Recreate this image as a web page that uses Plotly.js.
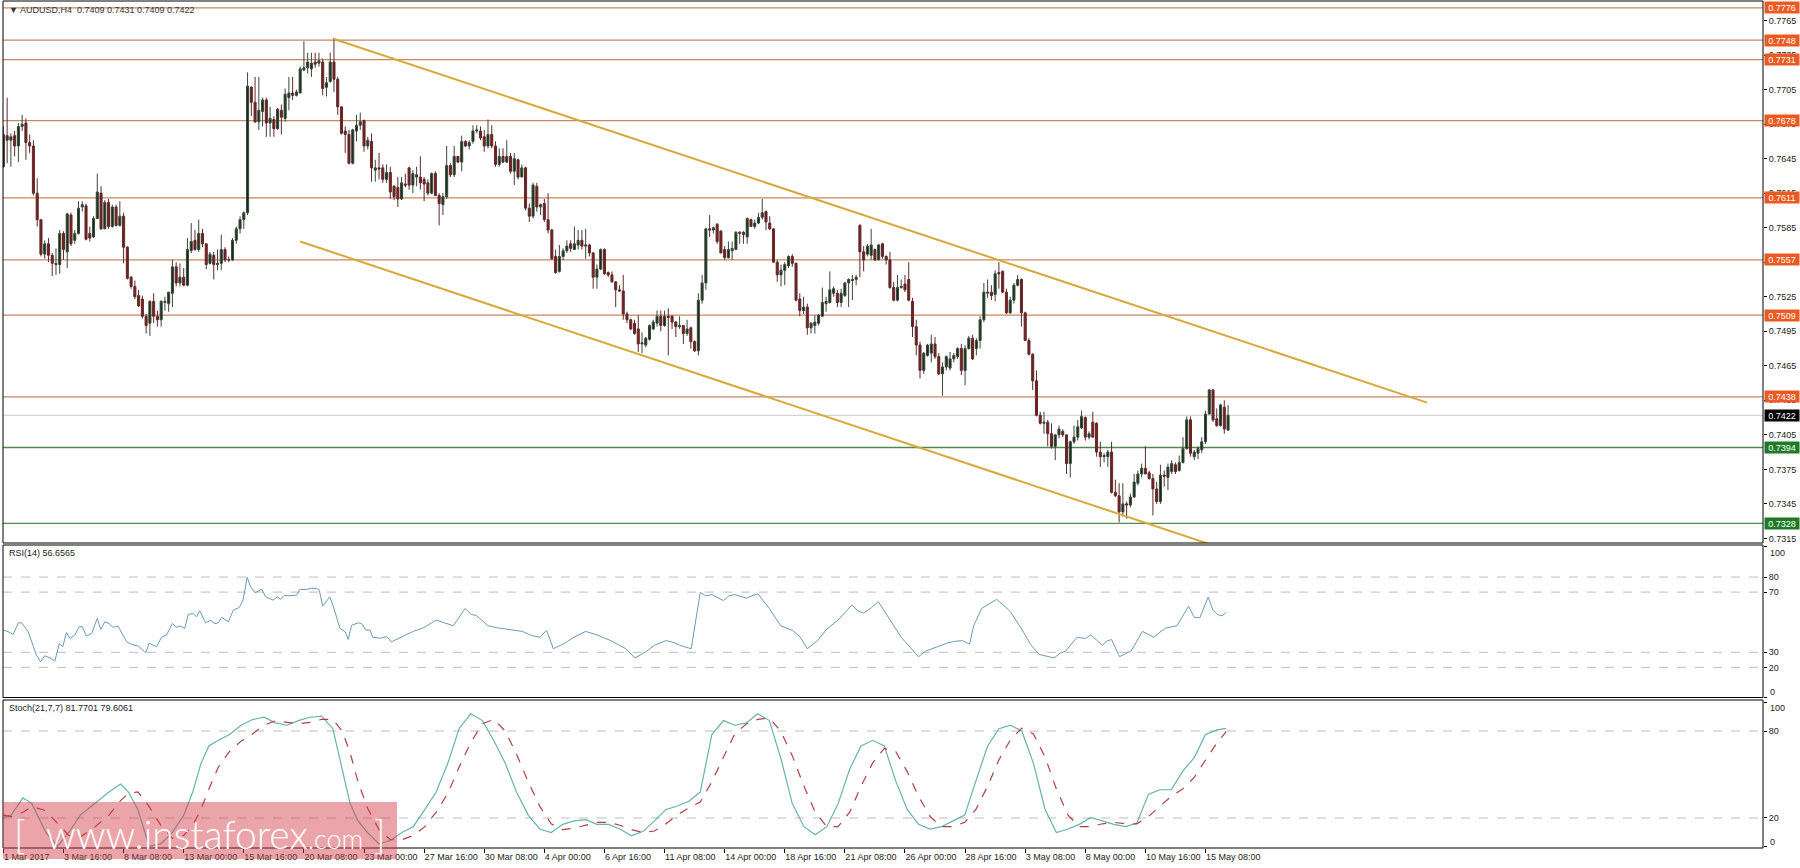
<!DOCTYPE html>
<html>
<head>
<meta charset="utf-8">
<script src="https://cdn.plot.ly/plotly-3.0.1.min.js"></script>
<style>html,body{margin:0;padding:0;background:#fff;}#chart{width:1800px;height:868px;}</style>
</head>
<body>
<div id="chart"></div>
<script>
// ---------------- DATA ----------------
const symbol = "AUDUSD,H4";
const openP = [
.7638,.7665,.7661,.7665,.7656,.7673,.7676,.7659,.7656,.7615,
.7592,.7562,.7571,.7561,.7553,.7553,.7580,.7564,.7596,.7574,
.7580,.7603,.7604,.7580,.7577,.7593,.7615,.7584,.7607,.7586,
.7603,.7587,.7595,.7568,.7542,.7534,.7526,.7523,.7508,.7502,
.7521,.7508,.7505,.7520,.7519,.7528,.7551,.7537,.7542,.7535,
.7565,.7574,.7566,.7580,.7571,.7554,.7561,.7553,.7554,.7566,
.7557,.7557,.7574,.7584,.7592,.7598,.7707,.7694,.7677,.7686,
.7696,.7676,.7679,.7671,.7687,.7680,.7698,.7702,.7700,.7702,
.7722,.7724,.7723,.7729,.7728,.7729,.7707,.7712,.7729,.7714,
.7690,.7669,.7666,.7641,.7669,.7674,.7678,.7656,.7660,.7635,
.7637,.7637,.7627,.7633,.7621,.7620,.7610,.7623,.7637,.7622,
.7629,.7629,.7627,.7624,.7615,.7632,.7613,.7605,.7612,.7639,
.7631,.7647,.7642,.7660,.7656,.7660,.7669,.7669,.7664,.7656,
.7666,.7656,.7640,.7647,.7642,.7647,.7634,.7644,.7629,.7637,
.7602,.7595,.7621,.7603,.7606,.7592,.7583,.7560,.7547,.7560,
.7565,.7571,.7566,.7570,.7574,.7569,.7570,.7563,.7542,.7549,
.7566,.7546,.7544,.7538,.7531,.7530,.7510,.7505,.7502,.7497,
.7484,.7483,.7488,.7497,.7502,.7508,.7500,.7508,.7508,.7503,
.7499,.7500,.7493,.7498,.7486,.7478,.7522,.7537,.7584,.7583,
.7588,.7582,.7566,.7559,.7565,.7566,.7580,.7581,.7577,.7592,
.7586,.7589,.7594,.7599,.7589,.7584,.7555,.7544,.7548,.7552,
.7560,.7554,.7523,.7513,.7516,.7498,.7500,.7502,.7508,.7519,
.7520,.7528,.7528,.7520,.7526,.7537,.7539,.7540,.7587,.7564,
.7562,.7561,.7566,.7557,.7571,.7560,.7557,.7533,.7522,.7533,
.7536,.7540,.7521,.7499,.7483,.7461,.7474,.7476,.7484,.7473,
.7458,.7464,.7463,.7471,.7473,.7480,.7461,.7480,.7489,.7480,
.7487,.7505,.7528,.7529,.7527,.7546,.7547,.7529,.7511,.7522,
.7535,.7540,.7511,.7487,.7475,.7452,.7422,.7415,.7416,.7406,
.7395,.7405,.7408,.7405,.7380,.7399,.7403,.7411,.7420,.7403,
.7416,.7415,.7390,.7386,.7386,.7390,.7355,.7352,.7338,.7345,
.7344,.7351,.7363,.7371,.7376,.7372,.7367,.7358,.7347,.7370,
.7368,.7373,.7379,.7374,.7381,.7393,.7418,.7386,.7389,.7392,
.7399,.7423,.7444,.7419,.7413,.7429,.7409];
const highP = [
.7673,.7698,.7667,.7669,.7676,.7683,.7680,.7666,.7661,.7628,
.7592,.7574,.7576,.7563,.7567,.7583,.7582,.7598,.7598,.7583,
.7608,.7608,.7606,.7586,.7595,.7632,.7621,.7609,.7610,.7605,
.7605,.7608,.7598,.7569,.7543,.7539,.7531,.7526,.7510,.7522,
.7528,.7513,.7522,.7525,.7529,.7557,.7555,.7554,.7550,.7576,
.7589,.7583,.7592,.7584,.7571,.7564,.7564,.7566,.7579,.7568,
.7560,.7576,.7586,.7595,.7599,.7720,.7708,.7716,.7716,.7698,
.7698,.7690,.7682,.7689,.7692,.7706,.7716,.7716,.7705,.7725,
.7747,.7737,.7737,.7737,.7737,.7732,.7716,.7737,.7750,.7716,
.7690,.7673,.7670,.7671,.7683,.7685,.7679,.7664,.7667,.7644,
.7650,.7640,.7640,.7638,.7622,.7629,.7629,.7632,.7638,.7635,
.7638,.7647,.7629,.7627,.7633,.7634,.7615,.7615,.7656,.7641,
.7656,.7647,.7665,.7661,.7661,.7674,.7674,.7673,.7670,.7679,
.7674,.7660,.7654,.7654,.7661,.7650,.7650,.7645,.7640,.7638,
.7606,.7624,.7624,.7606,.7610,.7615,.7584,.7566,.7570,.7567,
.7574,.7574,.7586,.7583,.7583,.7584,.7571,.7564,.7553,.7567,
.7567,.7547,.7547,.7538,.7535,.7544,.7512,.7506,.7505,.7509,
.7494,.7490,.7501,.7505,.7513,.7513,.7513,.7515,.7509,.7504,
.7508,.7500,.7505,.7499,.7487,.7528,.7544,.7585,.7596,.7586,
.7589,.7583,.7569,.7573,.7573,.7582,.7582,.7582,.7594,.7593,
.7592,.7598,.7610,.7600,.7595,.7584,.7557,.7553,.7555,.7561,
.7562,.7555,.7528,.7525,.7519,.7503,.7509,.7510,.7533,.7525,
.7547,.7534,.7531,.7532,.7538,.7541,.7544,.7544,.7588,.7569,
.7571,.7584,.7567,.7571,.7572,.7561,.7564,.7538,.7544,.7540,
.7544,.7555,.7524,.7505,.7486,.7477,.7484,.7492,.7490,.7476,
.7468,.7474,.7477,.7476,.7481,.7484,.7483,.7491,.7492,.7489,
.7508,.7537,.7540,.7535,.7548,.7555,.7548,.7532,.7525,.7537,
.7544,.7541,.7512,.7489,.7476,.7461,.7425,.7425,.7418,.7415,
.7405,.7413,.7410,.7405,.7400,.7413,.7418,.7426,.7421,.7408,
.7425,.7416,.7399,.7389,.7392,.7399,.7366,.7363,.7363,.7347,
.7354,.7371,.7374,.7380,.7395,.7374,.7371,.7364,.7379,.7374,
.7380,.7383,.7381,.7387,.7403,.7421,.7421,.7392,.7395,.7403,
.7426,.7445,.7445,.7428,.7432,.7435,.7431];
const lowP = [
.7637,.7641,.7638,.7647,.7642,.7669,.7644,.7650,.7613,.7586,
.7560,.7558,.7555,.7543,.7544,.7545,.7557,.7550,.7569,.7571,
.7579,.7599,.7574,.7573,.7576,.7593,.7583,.7584,.7584,.7585,
.7586,.7586,.7554,.7540,.7532,.7523,.7516,.7506,.7493,.7491,
.7502,.7499,.7499,.7513,.7512,.7516,.7534,.7534,.7534,.7534,
.7563,.7565,.7564,.7568,.7549,.7553,.7540,.7548,.7548,.7555,
.7555,.7556,.7571,.7580,.7584,.7596,.7682,.7676,.7670,.7673,
.7664,.7664,.7664,.7670,.7666,.7677,.7687,.7696,.7699,.7702,
.7721,.7719,.7716,.7724,.7725,.7700,.7699,.7711,.7703,.7683,
.7666,.7650,.7640,.7640,.7660,.7670,.7651,.7653,.7625,.7625,
.7627,.7624,.7624,.7610,.7609,.7603,.7609,.7620,.7618,.7615,
.7621,.7618,.7608,.7613,.7614,.7613,.7587,.7596,.7610,.7629,
.7629,.7641,.7634,.7655,.7653,.7658,.7667,.7661,.7651,.7654,
.7654,.7638,.7638,.7641,.7641,.7632,.7622,.7627,.7629,.7600,
.7590,.7593,.7599,.7596,.7590,.7580,.7557,.7545,.7546,.7557,
.7563,.7564,.7566,.7566,.7566,.7558,.7560,.7532,.7532,.7548,
.7544,.7542,.7537,.7516,.7529,.7505,.7502,.7496,.7492,.7477,
.7476,.7481,.7487,.7496,.7499,.7495,.7499,.7474,.7497,.7490,
.7497,.7484,.7491,.7480,.7477,.7474,.7519,.7531,.7577,.7580,
.7571,.7563,.7557,.7558,.7557,.7566,.7571,.7571,.7571,.7586,
.7584,.7588,.7592,.7583,.7583,.7555,.7538,.7534,.7535,.7550,
.7551,.7521,.7508,.7510,.7492,.7493,.7493,.7500,.7508,.7512,
.7519,.7525,.7516,.7516,.7525,.7516,.7522,.7535,.7542,.7547,
.7560,.7557,.7556,.7557,.7558,.7553,.7532,.7521,.7521,.7532,
.7529,.7521,.7490,.7474,.7454,.7458,.7473,.7468,.7471,.7457,
.7439,.7461,.7461,.7468,.7471,.7457,.7448,.7479,.7470,.7474,
.7480,.7503,.7524,.7522,.7521,.7532,.7528,.7510,.7510,.7519,
.7534,.7499,.7487,.7474,.7444,.7421,.7414,.7406,.7395,.7393,
.7383,.7402,.7403,.7371,.7368,.7397,.7400,.7410,.7400,.7401,
.7403,.7386,.7377,.7381,.7377,.7354,.7351,.7329,.7334,.7332,
.7342,.7350,.7361,.7368,.7371,.7366,.7335,.7345,.7345,.7360,
.7357,.7371,.7371,.7373,.7380,.7392,.7386,.7383,.7384,.7389,
.7397,.7423,.7416,.7412,.7412,.7406,.7409];
const closeP = [
.7666,.7661,.7664,.7656,.7673,.7675,.7659,.7656,.7615,.7592,
.7562,.7571,.7561,.7554,.7554,.7580,.7566,.7597,.7571,.7580,
.7602,.7605,.7575,.7576,.7593,.7616,.7584,.7607,.7586,.7603,
.7587,.7595,.7568,.7541,.7534,.7525,.7517,.7508,.7500,.7521,
.7508,.7505,.7521,.7521,.7529,.7551,.7537,.7542,.7535,.7566,
.7573,.7566,.7580,.7571,.7553,.7562,.7553,.7554,.7566,.7557,
.7557,.7574,.7584,.7592,.7598,.7708,.7694,.7677,.7687,.7696,
.7676,.7680,.7671,.7688,.7681,.7701,.7702,.7700,.7703,.7723,
.7724,.7729,.7728,.7727,.7730,.7706,.7711,.7729,.7714,.7690,
.7667,.7666,.7641,.7670,.7674,.7677,.7656,.7661,.7637,.7637,
.7636,.7627,.7633,.7616,.7612,.7610,.7624,.7622,.7622,.7632,
.7631,.7624,.7623,.7615,.7632,.7613,.7606,.7612,.7639,.7631,
.7647,.7642,.7660,.7656,.7659,.7669,.7670,.7663,.7656,.7666,
.7656,.7640,.7647,.7642,.7647,.7634,.7645,.7629,.7637,.7602,
.7595,.7622,.7603,.7605,.7592,.7583,.7558,.7546,.7560,.7565,
.7569,.7567,.7571,.7574,.7569,.7570,.7563,.7542,.7549,.7566,
.7545,.7544,.7538,.7531,.7530,.7510,.7505,.7497,.7493,.7484,
.7485,.7489,.7500,.7503,.7508,.7500,.7508,.7507,.7503,.7499,
.7500,.7493,.7497,.7486,.7478,.7522,.7537,.7584,.7583,.7585,
.7573,.7563,.7559,.7566,.7567,.7581,.7581,.7579,.7593,.7586,
.7589,.7594,.7598,.7590,.7584,.7555,.7544,.7548,.7553,.7560,
.7554,.7522,.7513,.7516,.7498,.7502,.7503,.7509,.7520,.7521,
.7531,.7532,.7520,.7528,.7537,.7540,.7540,.7542,.7564,.7557,
.7569,.7570,.7557,.7570,.7560,.7557,.7533,.7522,.7533,.7534,
.7531,.7522,.7499,.7483,.7461,.7476,.7483,.7484,.7473,.7458,
.7464,.7473,.7471,.7474,.7480,.7461,.7480,.7489,.7471,.7487,
.7505,.7529,.7529,.7526,.7545,.7545,.7529,.7511,.7522,.7535,
.7540,.7511,.7487,.7475,.7452,.7422,.7415,.7416,.7406,.7395,
.7405,.7410,.7405,.7380,.7399,.7403,.7412,.7421,.7403,.7406,
.7403,.7390,.7386,.7387,.7390,.7355,.7352,.7338,.7345,.7344,
.7351,.7364,.7371,.7376,.7371,.7367,.7358,.7347,.7370,.7369,
.7377,.7380,.7373,.7381,.7393,.7418,.7389,.7390,.7393,.7399,
.7423,.7444,.7418,.7413,.7431,.7410,.7422];

const xTickBars = [0,16,32,48,64,80,96,112,128,144,160,176,192,208,224,240,256,272,288,304,320];
const xTickLabels = ["1 Mar 2017","3 Mar 16:00","8 Mar 08:00","13 Mar 00:00","15 Mar 16:00","20 Mar 08:00","23 Mar 00:00","27 Mar 16:00","30 Mar 08:00","4 Apr 00:00","6 Apr 16:00","11 Apr 08:00","14 Apr 00:00","18 Apr 16:00","21 Apr 08:00","26 Apr 00:00","28 Apr 16:00","3 May 08:00","8 May 00:00","10 May 16:00","15 May 08:00"];
const priceTicks = [0.7765,0.7735,0.7705,0.7675,0.7645,0.7615,0.7585,0.7555,0.7525,0.7495,0.7465,0.7435,0.7405,0.7375,0.7345,0.7315];

const resistanceLevels = [0.7776,0.7748,0.7731,0.7678,0.7611,0.7557,0.7509,0.7438];
const supportLevels = [0.7394,0.7328];
const lastPrice = 0.7422;

const upperChannelBars = [88, 379];
const upperChannelPrices = [0.7749, 0.7433];
const lowerChannelBars = [79, 322];
const lowerChannelPrices = [0.7573, 0.7309];

const rsiBars = [0,1.3,2.6,4,4.9,6.6,8,8.8,9.9,11,12.4,13.7,14.9,15.8,16.8,17.7,19,20.2,21,22.1,23.5,25,25.9,27,28.2,29.2,30.5,32.8,34.2,35.9,37.9,38.8,40.8,42.1,43.4,45,46,47,48.3,49.2,50.5,51.4,52.3,53.8,55.2,56.3,57.2,58.1,59.9,61.2,62.8,63.8,64.9,65.8,67,68.8,69.8,71.8,72.9,73.8,74.8,75.8,78.1,78.9,80.7,81.9,83.4,84.1,85,86.9,87.8,89.6,91,91.8,92.7,94.5,95.4,96.5,97.6,98.3,100.3,102.1,103.3,104.7,
107,109.1,112,115.2,117.5,119.8,122.9,124.5,125.9,129.0,131.5,133.6,136,138.2,140.5,142.8,144.6,146.4,149.5,151.9,155.0,158.0,160,161.7,165.7,168.1,170.9,173.3,176.4,178.5,180.0,183.1,185.5,187,188.6,191.7,193.2,194.7,197.8,200.8,203.9,206.9,210.0,212,214.0,216.7,219.2,222.2,225.9,227.5,229.0,231,232.9,236.0,239.0,241.3,243.6,245.5,247.3,249.3,251.3,253.3,255.2,257.2,258.3,260.4,262.4,264.4,266.4,268.1,271.1,273.5,275.7,277.7,279.7,281.3,282.8,285.8,288,289.5,292.5,293.8,295.0,297.1,298.7,300.2,303.2,306.3,307.9,309.4,312.4,315.5,317,318.5,320.7,322,323.1,324.4,325.6];
const rsiValues = [44.8,43.7,41.9,49.6,49.6,43.7,33.7,28.2,23.7,27.7,26.3,24.2,35.9,33.7,43.2,39.2,41.5,47,47,40.8,42.5,52.6,45.2,50.3,49,46.6,47.5,37,35.2,34.2,29.7,36,33.7,40,41.4,49.2,46.6,47.5,46,55.2,55.8,53.6,57.6,49.6,51.3,49,49.6,53.2,50.3,58,59.8,64.7,79.8,73.6,69.6,71.8,66.9,64.7,66.9,65.2,68,67.5,68,71.8,71.8,72.5,72.5,71.3,60.7,66.9,60.7,45.9,43.7,38.6,48,49.6,49,44.8,44.8,40,39.4,40.4,37,38.6,
41.5,43.9,46.5,51.5,49.5,47.7,59.1,55.2,54.5,47.7,46.3,45.4,44.8,43.9,41.2,40.0,44.5,32.4,36.2,40.0,43.9,41.6,39.5,37.8,32.4,26.3,30.1,34.7,37.8,36.5,34.7,32.4,69.8,67.5,68.3,64.4,67.7,68.3,66.0,69.0,59.1,47.7,44.6,40.5,32.4,37.8,45.4,51.5,61.4,57.5,56.1,59.5,63.7,51.5,40.0,33.5,27.1,30.8,32.4,34.5,36.2,37.3,37.8,35.5,47.7,59.1,62.3,65.2,61.0,56.8,45.4,35.0,28.6,27.5,26.3,29.4,30.9,40.0,39.2,41.6,34.7,37.6,38.5,27.1,29.0,30.9,43.9,40.0,43.5,46.1,47.7,60.6,53.2,53.0,66.7,58.0,55.3,54.2,56.7];
const rsiLevels = [80,70,30,20];
const rsiTicks = [0,20,30,70,80,100];

const stochBars = [0,2.1,5.2,7.6,11.3,14.4,17.4,20.5,23.5,28.1,31.2,33.3,35.8,38.8,41.9,45.0,48.0,50.4,52.6,54.7,57.2,60.2,63.3,66.3,69.4,72.4,75.5,78.5,81.6,84.7,87.7,90.2,92.3,94.4,96.9,100.0,103.0,106.1,109.1,112.2,115.2,118.3,121.3,124.4,127.5,130.5,133.6,136.6,139.7,142.8,145.8,148.9,151.9,155.0,158.0,161.1,164.1,167.2,170.3,173.3,176.4,179.4,182.5,185.5,188.6,191.7,194.7,197.8,200.8,203.9,206.9,210.0,213.1,216.1,219.2,222.2,225.3,228.3,231.4,234.5,237.5,240.6,243.6,246.7,249.7,252.8,255.9,258.9,262.0,265.0,268.1,271.1,274.2,277.3,280.3,283.4,286.4,289.5,292.5,295.6,298.7,301.7,304.8,307.8,310.9,313.9,317.0,320.0,323.1,325.5];
const stochMain = [20.4,22.0,33.9,29.9,10.0,0.5,10.0,22.0,28.3,37.9,43.4,37.9,25.9,0.5,2.1,10.0,22.0,37.9,57.7,69.7,73.6,77.6,84.0,87.9,89.5,85.6,84.0,87.2,89.5,90.3,81.6,53.8,29.9,18.0,10.0,2.1,4.5,10.0,14.0,25.9,37.9,57.7,81.6,91.9,87.2,73.6,57.7,37.9,22.0,12.4,10.0,15.6,18.0,18.8,15.6,15.6,12.4,7.7,10.8,18.0,25.9,28.3,31.5,37.9,77.6,87.2,84.0,85.6,91.9,87.2,61.7,29.9,14.0,8.5,14.0,29.9,53.8,69.7,73.6,69.7,45.8,25.9,15.6,12.4,14.0,18.0,22.0,45.8,69.7,81.6,84.0,80.0,57.7,25.9,10.0,12.4,15.6,20.4,18.0,15.6,14.0,16.4,36.3,39.5,39.5,52.2,61.7,77.6,80.8,81.8];
const stochSignal = [22,21,24,28,25,16,8,7,12,22,32,37,38,28,15,6,8,15,26,40,55,66,73,78,84,87,86,85,86,88,88,80,65,45,27,12,5,5,8,14,24,37,55,72,85,88,80,64,45,28,16,12,13,15,17,17,15,12,10,11,16,22,27,31,45,62,78,85,88,89,80,63,42,24,14,14,24,42,58,68,66,52,35,21,14,14,17,26,42,60,74,82,78,62,40,22,14,14,16,17,16,16,21,28,35,40,48,60,72,79.6];
const stochLevels = [80,20];
const stochTicks = [0,20,80,100];

// ---------------- CHART ----------------
const FONT = "'Liberation Sans', Arial, sans-serif";
const FS = 9;
const bars = openP.map((_, i) => i);

const traces = [
  {
    type: 'candlestick', x: bars, open: openP, high: highP, low: lowP, close: closeP,
    xaxis: 'x', yaxis: 'y',
    increasing: {line: {color: '#3c463c', width: 1}, fillcolor: '#123012'},
    decreasing: {line: {color: '#5e2a2a', width: 1}, fillcolor: '#7a1d1d'},
    whiskerwidth: 0, hoverinfo: 'skip'
  },
  {type: 'scatter', mode: 'lines', x: upperChannelBars, y: upperChannelPrices, xaxis: 'x', yaxis: 'y',
   line: {color: '#d6a93a', width: 2}, hoverinfo: 'skip'},
  {type: 'scatter', mode: 'lines', x: lowerChannelBars, y: lowerChannelPrices, xaxis: 'x', yaxis: 'y',
   line: {color: '#d6a93a', width: 2}, hoverinfo: 'skip'},
  {type: 'scatter', mode: 'lines', x: rsiBars, y: rsiValues, xaxis: 'x', yaxis: 'y2',
   line: {color: '#6a9ab8', width: 1}, hoverinfo: 'skip'},
  {type: 'scatter', mode: 'lines', x: stochBars, y: stochMain, xaxis: 'x', yaxis: 'y3',
   line: {color: '#66b2ae', width: 1.2}, hoverinfo: 'skip'},
  {type: 'scatter', mode: 'lines', x: stochBars, y: stochSignal, xaxis: 'x', yaxis: 'y3',
   line: {color: '#b04040', width: 1.2, dash: 'dash'}, hoverinfo: 'skip'}
];

const H = 847; // plot-area height in px (t=1,b=20)
const py = (yPix) => (848 - yPix) / H;

const shapes = [];
const annotations = [];

const priceBox = (v, bg) => ({xref: 'paper', yref: 'y', x: 1, y: v, xanchor: 'left', yanchor: 'middle', xshift: 1,
  text: v.toFixed(4), showarrow: false, bgcolor: bg, width: 34, height: 11, borderpad: 0,
  font: {family: FONT, size: FS, color: '#ffffff'}});

resistanceLevels.forEach(v => {
  shapes.push({type: 'line', xref: 'paper', yref: 'y', x0: 0, x1: 1, y0: v, y1: v,
    line: {color: '#c98660', width: 1.3}, layer: 'below'});
  annotations.push(priceBox(v, '#ec5a22'));
});
supportLevels.forEach(v => {
  shapes.push({type: 'line', xref: 'paper', yref: 'y', x0: 0, x1: 1, y0: v, y1: v,
    line: {color: '#4f8a4f', width: 1.3}, layer: 'below'});
  annotations.push(priceBox(v, '#1f7a26'));
});
shapes.push({type: 'line', xref: 'paper', yref: 'y', x0: 0, x1: 1, y0: lastPrice, y1: lastPrice,
  line: {color: '#c8c8c8', width: 1}, layer: 'below'});
annotations.push(priceBox(lastPrice, '#000000'));

rsiLevels.forEach(v => shapes.push({type: 'line', xref: 'paper', yref: 'y2', x0: 0, x1: 1, y0: v, y1: v,
  line: {color: '#bdbdbd', width: 1, dash: 'dash'}, layer: 'below'}));
stochLevels.forEach(v => shapes.push({type: 'line', xref: 'paper', yref: 'y3', x0: 0, x1: 1, y0: v, y1: v,
  line: {color: '#bdbdbd', width: 1, dash: 'dash'}, layer: 'below'}));

// panel frames
const domMain = [py(543), 1];
const domRsi = [py(697.5), py(545)];
const domSto = [0, py(700)];
[domMain, domRsi, domSto].forEach(d => shapes.push({type: 'rect', xref: 'paper', yref: 'paper',
  x0: 0, x1: 1, y0: d[0], y1: d[1], line: {color: '#000', width: 1}, fillcolor: 'rgba(0,0,0,0)', layer: 'above'}));

// end labels 100 / 0 drawn inside the panel, as in the terminal
const edgeLabel = (txt, yPix) => ({xref: 'paper', yref: 'paper', x: 1, y: py(yPix), xanchor: 'left', yanchor: 'middle',
  xshift: 5, text: txt, showarrow: false, font: {family: FONT, size: FS, color: '#222'}});
annotations.push(edgeLabel(String(rsiTicks[5]), 553));
annotations.push(edgeLabel(String(rsiTicks[0]), 692));
annotations.push(edgeLabel(String(stochTicks[3]), 708));
annotations.push(edgeLabel(String(stochTicks[0]), 842));

// watermark box
shapes.push({type: 'rect', xref: 'paper', yref: 'paper', x0: 0, x1: (397 - 3) / 1760, y0: py(859), y1: py(802),
  line: {width: 0}, fillcolor: 'rgba(212,58,70,0.46)', layer: 'above'});

annotations.push({xref: 'paper', yref: 'paper', x: 0.0023, y: py(10), xanchor: 'left', yanchor: 'middle',
  text: '\u25BC ' + symbol + '  0.7409 0.7431 0.7409 0.7422', showarrow: false,
  font: {family: FONT, size: FS, color: '#333'}});
annotations.push({xref: 'paper', yref: 'paper', x: 0.0023, y: py(553), xanchor: 'left', yanchor: 'middle',
  text: 'RSI(14) 56.6565', showarrow: false, font: {family: FONT, size: FS, color: '#222'}});
annotations.push({xref: 'paper', yref: 'paper', x: 0.0023, y: py(708), xanchor: 'left', yanchor: 'middle',
  text: 'Stoch(21,7,7) 81.7701 79.6061', showarrow: false, font: {family: FONT, size: FS, color: '#222'}});
annotations.push({xref: 'paper', yref: 'paper', x: (200 - 3) / 1760, y: py(834), xanchor: 'center', yanchor: 'middle',
  text: '[&nbsp;&nbsp;www.instaforex<span style="font-size:27px">.com</span>&nbsp;]', showarrow: false,
  font: {family: 'Lato, "Open Sans", sans-serif', size: 39, color: '#ffffff', weight: 300}});

const axisFont = {family: FONT, size: FS, color: '#222'};
const layout = {
  width: 1800, height: 868,
  margin: {l: 3, r: 37, t: 1, b: 20},
  paper_bgcolor: '#ffffff', plot_bgcolor: '#ffffff',
  showlegend: false, boxgap: 0.22, dragmode: false,
  xaxis: {
    range: [-0.1, 468.4], anchor: 'y3', rangeslider: {visible: false},
    tickmode: 'array', tickvals: xTickBars, ticktext: xTickLabels, tickangle: 0,
    ticks: 'outside', ticklen: 4, tickcolor: '#000', ticklabelposition: 'outside right',
    ticklabeloverflow: 'allow', tickfont: axisFont, showgrid: false, zeroline: false, showline: false
  },
  yaxis: {
    domain: domMain, range: [0.7311, 0.7782], side: 'right', anchor: 'x',
    tickmode: 'array', tickvals: priceTicks, tickformat: '.4f',
    ticks: 'outside', ticklen: 3, tickcolor: '#000', tickfont: axisFont,
    showgrid: false, zeroline: false, showline: false
  },
  yaxis2: {
    domain: domRsi, range: [0, 101.3], side: 'right', anchor: 'x',
    tickmode: 'array', tickvals: rsiTicks, ticktext: rsiTicks.map(v => (v === 0 || v === 100) ? '' : String(v)),
    ticks: 'outside', ticklen: 3, tickcolor: '#000', tickfont: axisFont,
    showgrid: false, zeroline: false, showline: false
  },
  yaxis3: {
    domain: domSto, range: [-0.7, 101.4], side: 'right', anchor: 'x',
    tickmode: 'array', tickvals: stochTicks, ticktext: stochTicks.map(v => (v === 0 || v === 100) ? '' : String(v)),
    ticks: 'outside', ticklen: 3, tickcolor: '#000', tickfont: axisFont,
    showgrid: false, zeroline: false, showline: false
  },
  shapes: shapes,
  annotations: annotations
};

Plotly.newPlot('chart', traces, layout, {staticPlot: true, displayModeBar: false});
</script>
</body>
</html>
